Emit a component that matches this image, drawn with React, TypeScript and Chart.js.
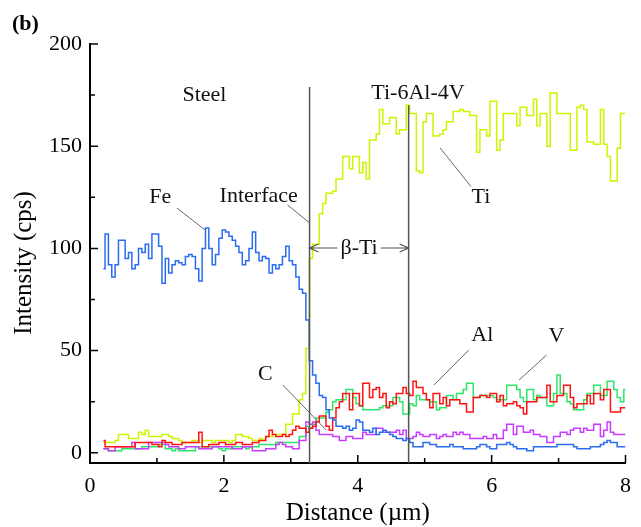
import React, { useEffect, useRef } from "react";
import { Chart, registerables } from "chart.js";

Chart.register(...registerables);

// Sampling grid of the line scan (µm)
const distanceStart = 0.2;
const distanceStep = 0.05;

// Intensity (cps), one value per 0.05 µm from 0.20 to 8.00
const feValues = [
  90, 107, 92, 86, 92, 104, 104, 95, 98, 90,
  92, 100, 98, 102, 95, 107, 107, 101, 83, 95,
  88, 92, 94, 93, 92, 96, 97, 96, 90, 84,
  100, 110, 100, 92, 97, 105, 109, 108, 106, 104,
  101, 98, 92, 94, 100, 108, 98, 94, 96, 95,
  88, 92, 90, 92, 96, 101, 94, 92, 86, 80,
  78, 65, 45, 38, 34, 28, 27, 21, 17, 16,
  13, 13, 12, 13, 11, 12, 16, 15, 11, 11,
  10, 12, 9, 10, 11, 10, 9, 8, 7, 7,
  6, 7, 5, 3, 3, 3, 5, 5, 4, 4,
  3, 3, 3, 3, 4, 3, 3, 3, 2, 2,
  2, 2, 3, 4, 4, 3, 2, 2, 4, 4,
  4, 5, 4, 3, 2, 2, 2, 1, 1, 3,
  3, 3, 3, 3, 3, 3, 4, 4, 4, 4,
  4, 3, 2, 2, 2, 2, 3, 3, 3, 4,
  5, 6, 5, 5, 3, 3, 3,
];

const tiValues = [
  5, 5, 5, 5, 6, 9, 9, 9, 7, 7,
  7, 10, 9, 11, 8, 8, 8, 8, 9, 9,
  8, 7, 7, 6, 5, 5, 5, 6, 6, 5,
  6, 6, 6, 5, 6, 6, 6, 6, 5, 6,
  9, 9, 8, 8, 7, 6, 6, 7, 6, 8,
  8, 9, 9, 9, 9, 14, 14, 19, 19, 26,
  29, 51, 95, 102, 102, 117, 122, 127, 127, 128,
  134, 134, 145, 145, 139, 145, 145, 137, 142, 134,
  153, 153, 156, 168, 161, 161, 164, 164, 156, 158,
  158, 170, 166, 166, 138, 137, 162, 166, 166, 155,
  155, 156, 158, 162, 162, 167, 167, 168, 167, 167,
  165, 165, 147, 158, 158, 155, 172, 172, 148, 153,
  166, 166, 166, 166, 160, 169, 169, 165, 165, 173,
  160, 166, 166, 150, 176, 176, 166, 166, 166, 166,
  148, 148, 169, 170, 168, 152, 152, 151, 151, 168,
  151, 145, 133, 133, 149, 166, 166,
];

const alValues = [
  6, 3, 3, 3, 3, 3, 3, 3, 3, 3,
  5, 5, 5, 5, 5, 4, 4, 3, 6, 5,
  5, 4, 4, 4, 5, 5, 5, 5, 5, 10,
  3, 3, 4, 4, 4, 5, 5, 4, 4, 4,
  5, 5, 4, 4, 4, 5, 5, 6, 6, 8,
  11, 9, 8, 8, 9, 8, 9, 11, 13, 12,
  12, 10, 12, 13, 15, 18, 18, 13, 11, 17,
  22, 25, 29, 29, 21, 29, 29, 23, 34, 34,
  27, 31, 32, 27, 29, 22, 25, 24, 29, 29,
  32, 29, 28, 35, 32, 32, 29, 26, 22, 29,
  29, 24, 27, 23, 26, 26, 26, 24, 24, 20,
  20, 27, 27, 28, 28, 27, 29, 29, 25, 28,
  23, 24, 24, 25, 23, 22, 19, 25, 25, 25,
  27, 27, 27, 33, 25, 25, 28, 28, 33, 33,
  27, 22, 24, 24, 24, 28, 24, 29, 29, 26,
  31, 31, 20, 20, 20, 22, 22,
];

const vValues = [
  2, 2, 1, 1, 1, 1, 2, 2, 2, 2,
  2, 2, 3, 3, 3, 3, 3, 4, 4, 2,
  2, 1, 2, 1, 1, 1, 1, 1, 3, 3,
  3, 3, 3, 3, 3, 2, 1, 2, 2, 3,
  3, 3, 3, 2, 3, 3, 3, 4, 4, 4,
  4, 4, 5, 5, 5, 5, 5, 5, 5, 8,
  8, 13, 12, 14, 17, 17, 17, 20, 21, 25,
  26, 26, 26, 31, 31, 27, 24, 23, 21, 21,
  21, 21, 21, 22, 23, 23, 23, 27, 27, 25,
  19, 19, 24, 23, 28, 26, 26, 26, 25, 25,
  21, 22, 22, 28, 28, 26, 29, 29, 31, 34,
  34, 27, 27, 28, 28, 28, 28, 27, 26, 26,
  26, 33, 33, 33, 31, 27, 25, 31, 31, 26,
  28, 27, 27, 23, 23, 29, 38, 29, 29, 25,
  24, 21, 21, 21, 26, 29, 29, 33, 33, 28,
  28, 35, 35, 31, 27, 25, 31,
];

const cValues = [
  2, 2, 1, 1, 3, 3, 3, 3, 3, 5,
  2, 2, 2, 2, 5, 5, 5, 5, 5, 4,
  3, 3, 3, 2, 2, 3, 3, 3, 3, 2,
  2, 2, 2, 3, 3, 3, 3, 3, 3, 2,
  2, 2, 3, 3, 3, 1, 1, 1, 1, 2,
  2, 2, 4, 5, 4, 3, 3, 2, 2, 6,
  6, 15, 14, 15, 11, 9, 9, 9, 9, 8,
  8, 6, 6, 8, 8, 7, 7, 7, 10, 9,
  9, 9, 12, 12, 10, 10, 10, 10, 11, 9,
  11, 7, 7, 8, 10, 9, 8, 8, 9, 9,
  7, 8, 9, 8, 8, 10, 9, 10, 9, 9,
  7, 7, 7, 7, 8, 7, 7, 9, 7, 7,
  11, 14, 14, 9, 13, 13, 10, 10, 11, 9,
  9, 8, 8, 5, 5, 8, 8, 10, 10, 9,
  11, 12, 12, 10, 12, 11, 11, 14, 14, 8,
  11, 15, 10, 9, 9, 9, 9,
];

const seriesNames = ["Fe", "Al", "C", "V", "Ti"];
const seriesColors = ["#2a6cf0", "#ff1414", "#c83cff", "#2ee66a", "#ccf500"];
const seriesValues = [feValues, alValues, cValues, vValues, tiValues];

// Axis ticks
const xTickValues = [0, 1, 2, 3, 4, 5, 6, 7, 8];
const xTickLabels = [0, 2, 4, 6, 8];
const yTickValues = [0, 25, 50, 75, 100, 125, 150, 175, 200];
const yTickLabels = [0, 50, 100, 150, 200];

// Annotations (data coordinates)
const regionLabels = [
  { text: "Steel", x: 1.71, y: 175 },
  { text: "Ti-6Al-4V", x: 4.9, y: 176 },
  { text: "Fe", x: 1.05, y: 125 },
  { text: "Interface", x: 2.52, y: 125.5 },
  { text: "Ti", x: 5.84, y: 125 },
  { text: "C", x: 2.62, y: 38.3 },
  { text: "Al", x: 5.86, y: 57.6 },
  { text: "V", x: 6.97, y: 57 },
];
const leaderLines = [
  [1.3, 119.7, 1.72, 109],
  [2.95, 121.3, 3.28, 112.5],
  [5.23, 149.2, 5.69, 130.3],
  [2.88, 33.2, 3.53, 11.1],
  [5.66, 50.3, 5.14, 33.2],
  [6.82, 47.8, 6.41, 35.6],
];
const boundaries = [
  { x: 3.28, top: 179 },
  { x: 4.76, top: 170 },
];
const betaZone = { text: "β-Ti", from: 3.28, to: 4.76, y: 100.2 };

const FONT = "'Liberation Serif', 'Times New Roman', serif";

const overlayPlugin = {
  id: "overlay",
  afterDraw(chart: any) {
    const { ctx, chartArea } = chart;
    const xs = chart.scales.x;
    const ys = chart.scales.y;
    const px = (v: number) => xs.getPixelForValue(v);
    const py = (v: number) => ys.getPixelForValue(v);
    ctx.save();

    // inward tick marks
    ctx.strokeStyle = "#000";
    ctx.lineWidth = 1.5;
    ctx.beginPath();
    for (const v of yTickValues) {
      const len = yTickLabels.includes(v) ? 8 : 5;
      const yy = py(v);
      ctx.moveTo(chartArea.left, yy);
      ctx.lineTo(chartArea.left + len, yy);
    }
    for (const v of xTickValues) {
      const len = xTickLabels.includes(v) ? 8 : 5;
      const xx = px(v);
      ctx.moveTo(xx, chartArea.bottom);
      ctx.lineTo(xx, chartArea.bottom - len);
    }
    ctx.stroke();

    // boundary lines
    ctx.strokeStyle = "#555";
    ctx.lineWidth = 1.5;
    ctx.beginPath();
    for (const b of boundaries) {
      ctx.moveTo(px(b.x), py(b.top));
      ctx.lineTo(px(b.x), chartArea.bottom);
    }
    ctx.stroke();

    // leader lines
    ctx.strokeStyle = "#666";
    ctx.lineWidth = 1;
    ctx.beginPath();
    for (const l of leaderLines) {
      ctx.moveTo(px(l[0]), py(l[1]));
      ctx.lineTo(px(l[2]), py(l[3]));
    }
    ctx.stroke();

    // labels
    ctx.fillStyle = "#111";
    ctx.font = `22px ${FONT}`;
    ctx.textAlign = "center";
    ctx.textBaseline = "middle";
    for (const t of regionLabels) {
      ctx.fillText(t.text, px(t.x), py(t.y));
    }

    // beta-Ti double arrow
    const x1 = px(betaZone.from);
    const x2 = px(betaZone.to);
    const yb = py(betaZone.y);
    const tc = (x1 + x2) / 2;
    const w = ctx.measureText(betaZone.text).width;
    ctx.fillText(betaZone.text, tc, yb);
    ctx.strokeStyle = "#555";
    ctx.lineWidth = 1.2;
    ctx.beginPath();
    ctx.moveTo(x1, yb);
    ctx.lineTo(tc - w / 2 - 3, yb);
    ctx.moveTo(tc + w / 2 + 3, yb);
    ctx.lineTo(x2, yb);
    ctx.moveTo(x1 + 9, yb - 4);
    ctx.lineTo(x1, yb);
    ctx.lineTo(x1 + 9, yb + 4);
    ctx.moveTo(x2 - 9, yb - 4);
    ctx.lineTo(x2, yb);
    ctx.lineTo(x2 - 9, yb + 4);
    ctx.stroke();

    // panel label
    ctx.fillStyle = "#000";
    ctx.font = `bold 22px ${FONT}`;
    ctx.textAlign = "left";
    ctx.textBaseline = "alphabetic";
    ctx.fillText("(b)", 12, 30);

    // axis titles
    ctx.font = `25px ${FONT}`;
    ctx.textAlign = "center";
    ctx.fillText("Distance (µm)", (chartArea.left + chartArea.right) / 2, 520);
    ctx.save();
    ctx.translate(31, 263);
    ctx.rotate(-Math.PI / 2);
    ctx.fillText("Intensity (cps)", 0, 0);
    ctx.restore();

    ctx.restore();
  },
};

export default function App() {
  const canvasRef = useRef<HTMLCanvasElement | null>(null);

  useEffect(() => {
    const canvas = canvasRef.current;
    if (!canvas) return;
    const datasets = seriesNames.map((name, i) => ({
      label: name,
      data: seriesValues[i].map((v, k) => ({
        x: +(distanceStart + k * distanceStep).toFixed(2),
        y: v,
      })),
      borderColor: seriesColors[i],
      backgroundColor: seriesColors[i],
      borderWidth: 1.5,
      pointRadius: 0,
      stepped: "middle" as const,
      fill: false,
    }));

    const chart = new Chart(canvas, {
      type: "line",
      data: { datasets },
      options: {
        animation: false,
        responsive: false,
        devicePixelRatio: 1,
        layout: { padding: { top: 44, right: 14, left: 0, bottom: 0 } },
        plugins: {
          legend: { display: false },
          tooltip: { enabled: false },
        },
        scales: {
          x: {
            type: "linear",
            min: 0,
            max: 8,
            afterBuildTicks: (s: any) => {
              s.ticks = xTickValues.map((v) => ({ value: v }));
            },
            afterFit: (s: any) => {
              s.height = 64;
            },
            ticks: {
              autoSkip: false,
              maxRotation: 0,
              padding: 10,
              color: "#000",
              font: { family: FONT, size: 22 },
              callback: (v: any) => (xTickLabels.includes(Number(v)) ? String(v) : ""),
            },
            grid: { display: false, drawTicks: false },
            border: { display: true, color: "#000", width: 2 },
          },
          y: {
            type: "linear",
            min: -5,
            max: 200,
            afterBuildTicks: (s: any) => {
              s.ticks = yTickValues.map((v) => ({ value: v }));
            },
            afterFit: (s: any) => {
              s.width = 90;
            },
            ticks: {
              autoSkip: false,
              padding: 8,
              color: "#000",
              font: { family: FONT, size: 22 },
              callback: (v: any) => (yTickLabels.includes(Number(v)) ? String(v) : ""),
            },
            grid: { display: false, drawTicks: false },
            border: { display: true, color: "#000", width: 2 },
          },
        },
      },
      plugins: [overlayPlugin],
    });
    return () => chart.destroy();
  }, []);

  return (
    <div style={{ position: "fixed", left: 0, top: 0, width: 641, height: 527, background: "#fff" }}>
      <canvas ref={canvasRef} width={641} height={527} style={{ width: 641, height: 527, display: "block" }} />
    </div>
  );
}
